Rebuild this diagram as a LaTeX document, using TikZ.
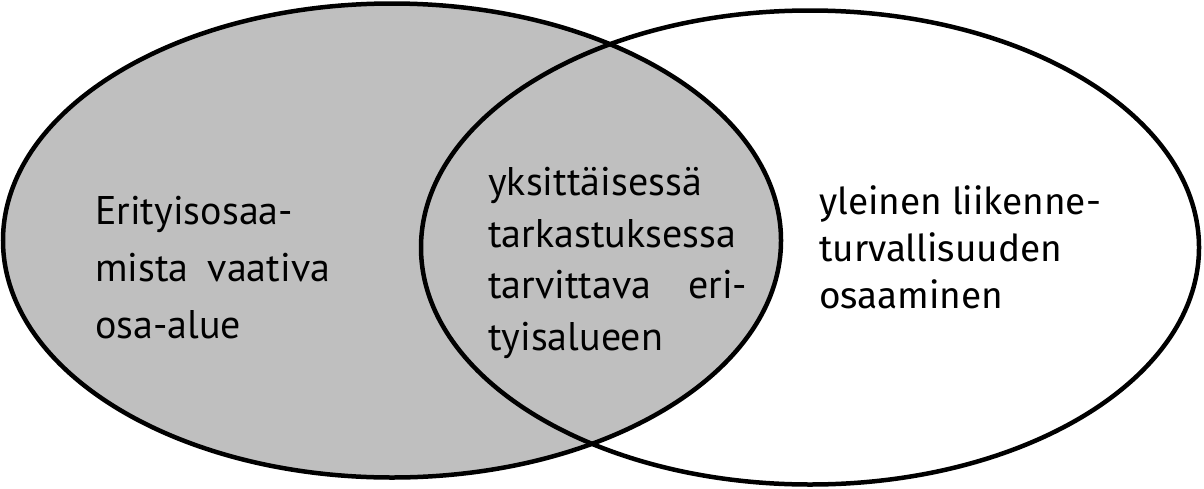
\documentclass[tikz,border=0pt]{standalone}
\usepackage{fontspec}
\setmainfont{PT Sans}
\newfontfamily\rightfont{Fira Sans}
\definecolor{vennfill}{RGB}{191,191,191}
\tikzset{
  venn/.style={line width=4.5pt},
  lbl/.style={anchor=base west, inner sep=0pt, align=left, text=black},
}
\begin{document}
\begin{tikzpicture}[x=1pt,y=-1pt]
\useasboundingbox (0,0) rectangle (1204,488);
% fills
\fill[white] (810,247.5) ellipse [x radius=389, y radius=237];
\fill[vennfill] (392,240.5) ellipse [x radius=389, y radius=237];
% outlines
\draw[venn] (392,240.5) ellipse [x radius=389, y radius=237];
\draw[venn] (810,247.5) ellipse [x radius=389, y radius=237];
% texts (anchor = baseline of last line)
\node[lbl, font=\fontsize{40}{57}\selectfont] (left) at (95,338)
  {Erityisosaa-\\\makebox[235pt][s]{mista vaativa}\\osa-alue};
\node[lbl, font=\fontsize{40}{51.5}\selectfont] (mid) at (488,350)
  {yksittäisessä\\tarkastuksessa\\\makebox[259pt][s]{tarvittava eri-}\\tyisalueen};
\node[lbl, font=\rightfont\fontsize{37}{47}\selectfont] (right) at (819,308)
  {yleinen liikenne-\\turvallisuuden\\osaaminen};
\end{tikzpicture}
\end{document}
